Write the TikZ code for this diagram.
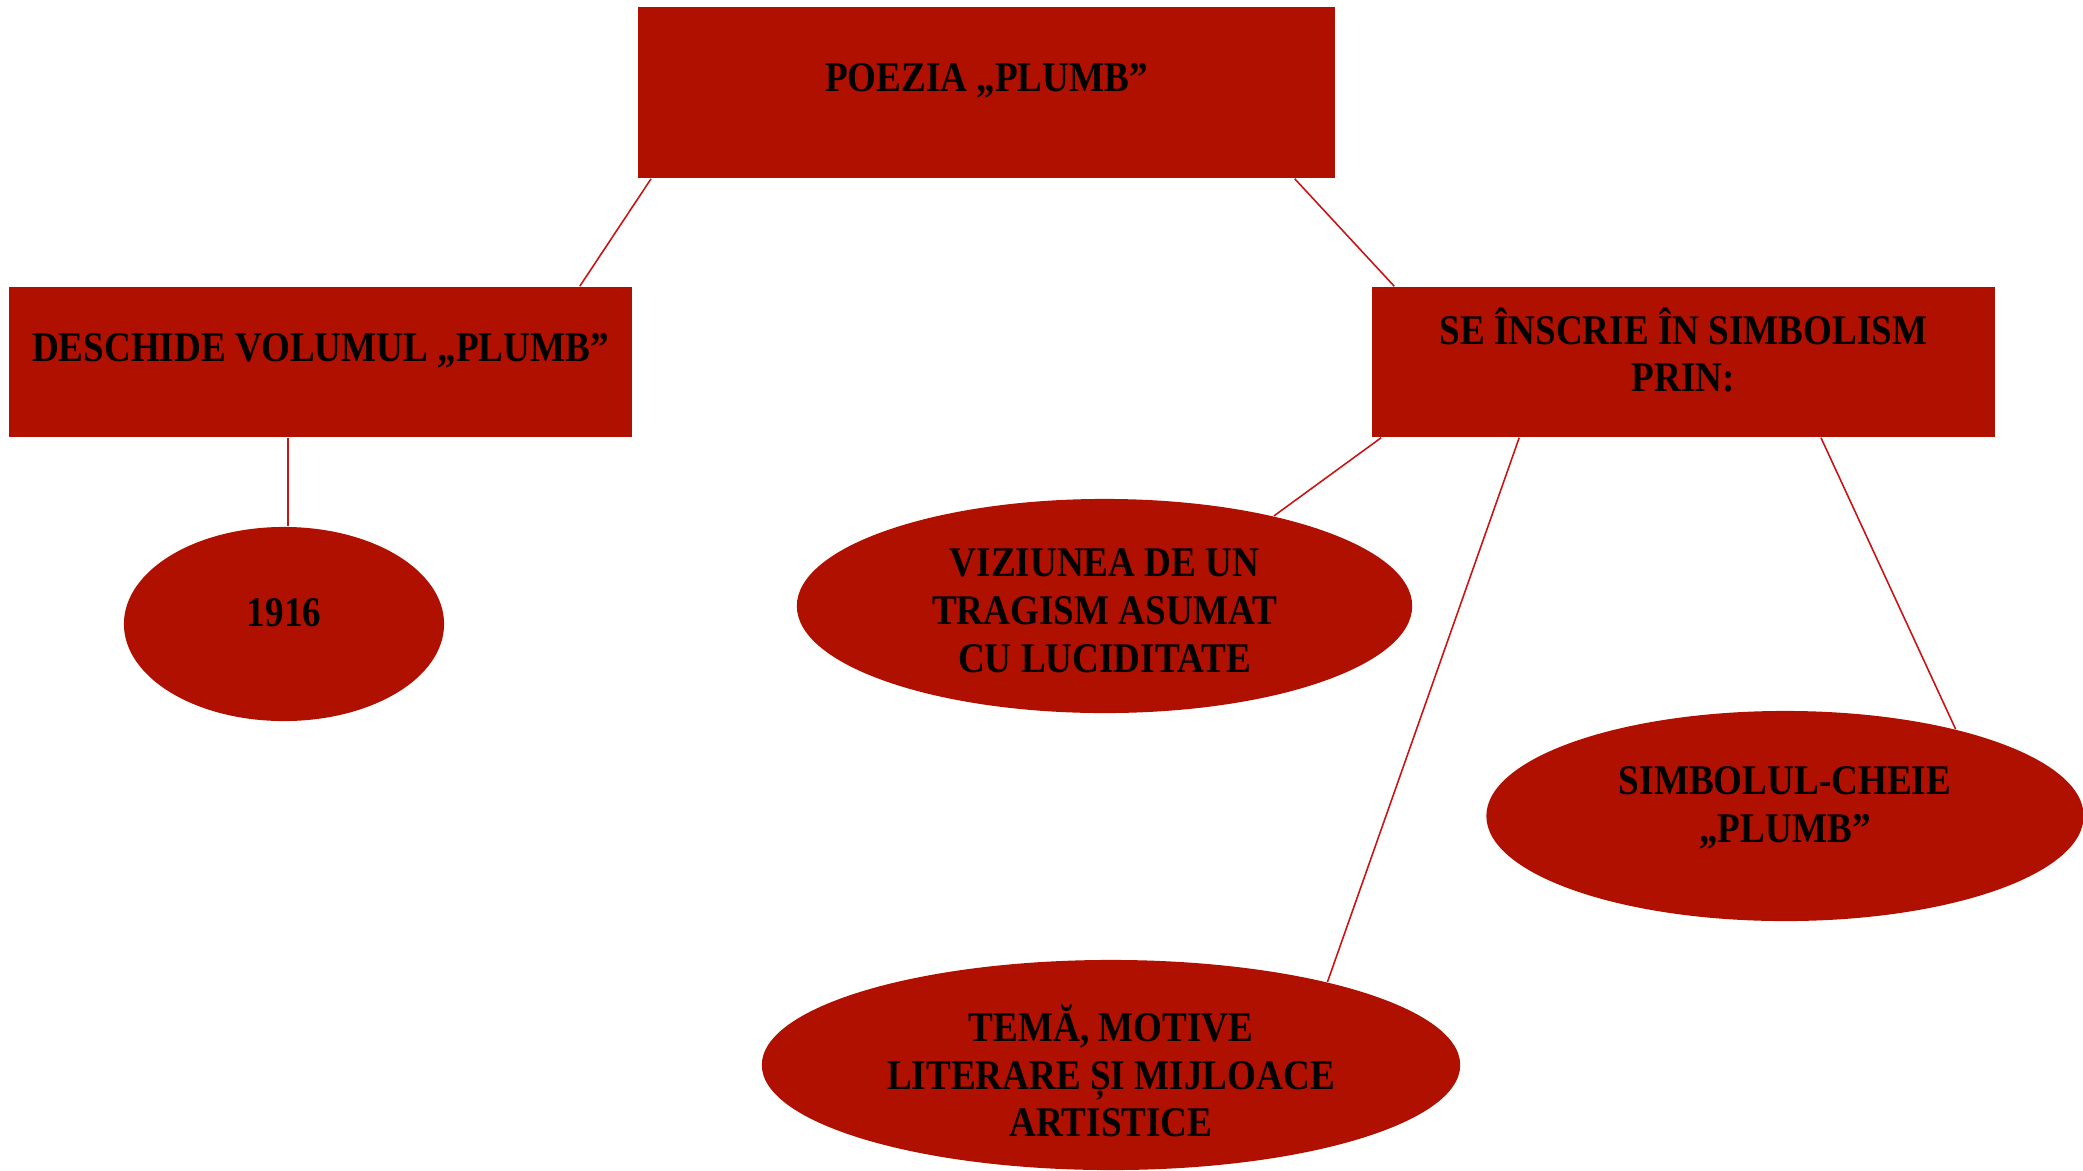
\documentclass[tikz,border=0pt]{standalone}
\usepackage{fontspec}
\setmainfont{Liberation Serif}[FakeStretch=0.88]
\usetikzlibrary{calc, shapes.geometric}
\definecolor{plumbred}{RGB}{176,16,0}
\definecolor{linkred}{RGB}{200,20,20}

\begin{document}
\begin{tikzpicture}[
    x=0.01cm, y=-0.01cm,
    box/.style={fill=plumbred, inner sep=0pt},
    oval/.style={ellipse, fill=plumbred, inner sep=0pt},
    lbl/.style={align=center, inner sep=0pt,
                font=\fontsize{12}{13.6}\selectfont\bfseries},
    link/.style={draw=linkred, line width=0.45pt}
  ]
  \useasboundingbox (0,0) rectangle (2083,1170);

  % Boxes
  \node[box, minimum width=6.97cm, minimum height=1.71cm] (poezia) at (986.5,92.5) {};
  \node[box, minimum width=6.23cm, minimum height=1.50cm] (volum) at (320.5,362) {};
  \node[box, minimum width=6.23cm, minimum height=1.50cm] (simb) at (1683.5,362) {};

  % Ovals
  \node[oval, minimum width=3.20cm, minimum height=1.94cm] (an) at (284,624) {};
  \node[oval, minimum width=6.15cm, minimum height=2.14cm] (viz) at (1104.5,606) {};
  \node[oval, minimum width=5.97cm, minimum height=2.10cm] (cheie) at (1785,816) {};
  \node[oval, minimum width=6.98cm, minimum height=2.10cm] (tema) at (1111,1065) {};

  % Connectors
  \draw[link] ($(poezia.south west)!0.02!(poezia.south east)$)
           -- ($(volum.north west)!0.915!(volum.north east)$);
  \draw[link] ($(poezia.south west)!0.941!(poezia.south east)$)
           -- ($(simb.north west)!0.037!(simb.north east)$);
  \coordinate (v1) at ($(volum.south west)!0.448!(volum.south east)$);
  \draw[link] (v1) -- (v1 |- an.north);
  \draw[link] ($(simb.south west)!0.016!(simb.south east)$) -- (viz.28);
  \draw[link] ($(simb.south west)!0.237!(simb.south east)$) -- (tema.21);
  \draw[link] ($(simb.south west)!0.72!(simb.south east)$) -- (cheie.27);

  % Texts
  \node[lbl] (poezia-t) at ([yshift=1.15mm]poezia.center) {POEZIA „PLUMB”};
  \node[lbl] (volum-t) at ([yshift=1.1mm]volum.center) {DESCHIDE VOLUMUL „PLUMB”};
  \node[lbl] (simb-t) at ([yshift=1.2mm]simb.center) {SE ÎNSCRIE ÎN SIMBOLISM\\PRIN:};
  \node[lbl] (an-t) at ([yshift=1.1mm]an.center) {1916};
  \node[lbl] (viz-t) at ([yshift=-0.5mm]viz.center) {VIZIUNEA DE UN\\TRAGISM ASUMAT\\CU LUCIDITATE};
  \node[lbl] (cheie-t) at ([yshift=0.8mm]cheie.center) {SIMBOLUL-CHEIE\\„PLUMB”};
  \node[lbl] (tema-t) at ([yshift=-0.6mm]tema.center) {TEMĂ, MOTIVE\\LITERARE ȘI MIJLOACE\\ARTISTICE};
\end{tikzpicture}
\end{document}
